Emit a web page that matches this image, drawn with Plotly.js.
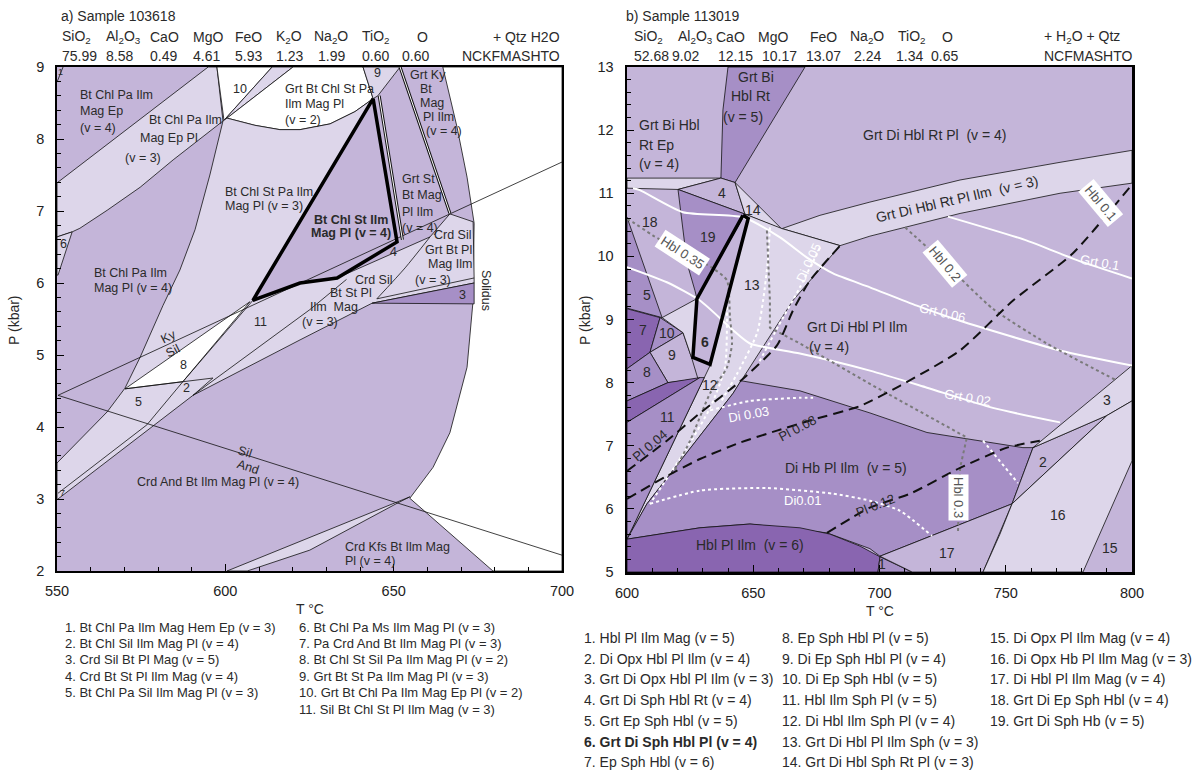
<!DOCTYPE html>
<html><head><meta charset="utf-8">
<script src="https://cdn.plot.ly/plotly-3.0.1.min.js"></script>
<style>html,body{margin:0;padding:0;background:#fff}#chart{width:1200px;height:776px}</style>
</head><body><div id="chart"></div>
<script>
const FONT = 'Liberation Sans, Arial, Helvetica, sans-serif';
const W = 1200, H = 776;
const C_LIGHT = '#ddd6ea', C_MED = '#c4b5d9', C_DARK = '#a68fc6', C_DARKEST = '#8965b0', C_WHITE = '#ffffff';

// ================= Panel a : Sample 103618 (T degC, P kbar) =================
const a_supersolidus = [[664.6,9],[700,9],[700,2],[679.5,2],[654.8,3.01],[661.7,3.44],[666.7,3.92],[671.8,4.83],[673.6,5.76],[673.9,6.83],[671.8,7.47],[668.8,8.17]];
const a_epPl = [[550,7.39],[594.9,9],[597.5,9],[599.3,8.25],[584.5,7.71],[574.7,7.33],[564.9,7.01],[556.8,6.76],[554.5,6.71],[550,6.64]];
const a_f10 = [[597.5,9],[613.9,9],[599.6,8.26]];
const a_sliver10 = [[613.9,9],[620.1,9],[600.5,8.29],[599.6,8.26]];
const a_grtBtChl = [[620.1,9],[640.9,9],[643.9,8.56],[638.5,8.38],[631.1,8.21],[622.2,8.13],[616.2,8.13],[608.8,8.19],[600.5,8.29]];
const a_f9 = [[640.9,9],[651.9,9],[645.3,8.6],[643.9,8.56]];
const a_bigLight = [[599.3,8.25],[600.5,8.29],[608.8,8.19],[616.2,8.13],[622.2,8.13],[631.1,8.21],[638.5,8.38],[643.9,8.56],[608.2,5.76],[622.2,6.0],[633.2,6.07],[660.8,6.64],[666.7,6.96],[673.6,6.85],[673.9,6.07],[673.9,6.0],[643.6,5.72],[622.2,5.21],[590.4,4.44],[550.3,2.99],[550,2.99],[550,3.5],[564.9,4.21],[570.2,4.54],[574.7,4.97],[581.5,5.69],[586.5,6.18],[591,6.74],[595.4,7.5]];
const a_f8 = [[570.2,4.53],[607.3,5.74],[587.4,4.63]];
const a_f6 = [[550,6.64],[554.5,6.71],[550.3,6.11],[550,6.11]];
const a_f3 = [[643.6,5.72],[673.9,6.0],[673.9,5.71]];
const a_kfsSliver = [[600.5,2],[625.1,2.47],[654.8,3.03],[651,2.94],[625.1,2.29],[606.5,2]];
const a_kySil = [[550.3,4.44],[700,7.68]];
const a_silAnd = [[550.3,4.44],[700,2.22]];
const a_thick = [[643.9,8.56],[608.2,5.76],[622.2,6.0],[633.2,6.07],[651,6.57],[643.9,8.56]];
const a_dbl1 = [[651.9,9],[666.7,6.97]];
const a_dbl2 = [[645.7,8.6],[652.6,6.6]];
const a_crdCurve = [[645,5.78],[653.4,6.21],[660.8,6.64]];
const a_f3top = [[645,5.78],[673.9,6.07]];
const a_lineL2 = [[608.2,5.76],[587.4,4.63],[576.7,4.03],[550.3,3.08]];
const a_lineF = [[590.4,4.44],[625.1,5.63],[636,6.05]];
const a_lineE = [[570.2,4.53],[596.3,4.68],[590.4,4.44]];
const a_line1 = [[550,8.79],[551.8,9]];

// ================= Panel b : Sample 113019 =================
const b_strip = [[600,11.24],[637.2,11.24],[620.2,11.06],[600,11.08]];
const b_grtBiHblRt = [[640,13],[670.5,13],[642.8,11.17],[637.2,11.24],[638,12.32]];
const b_f4 = [[620.2,11.06],[637.2,11.24],[642.8,11.17],[646.7,10.67]];
const b_f14 = [[642.8,11.17],[661.4,10.43],[646.7,10.67]];
const b_band = [[661.4,10.44],[676.4,10.65],[696.2,10.86],[731.9,11.21],[771.5,11.49],[800,11.68],[800,11.16],[771.5,11.0],[731.9,10.68],[696.2,10.32],[684.4,10.17]];
const b_wedge = [[646.7,10.67],[661.4,10.44],[684.4,10.17],[665.7,9.3],[642,7.83],[607.9,6.08],[600,5.52],[632.9,8.27],[647.9,10.6]];
const b_f19 = [[620.2,11.06],[646.7,10.67],[627.7,9.33],[626.9,9.46],[623.8,9.89]];
const b_f5 = [[600,10.62],[613.9,9.03],[600,9.18]];
const b_f7 = [[600,9.17],[613.1,9.03],[609.1,8.48],[600,8.22]];
const b_f10 = [[613.1,9.03],[622.2,8.79],[609.1,8.48]];
const b_f9 = [[609.1,8.48],[622.2,8.79],[625.7,8.38],[628.1,8.06],[616.2,8.0]];
const b_f8 = [[600,8.22],[609.1,8.48],[616.2,8.0],[600,7.71]];
const b_sliver = [[600,7.71],[616.2,8.0],[628.9,8.08],[600,7.37]];
const b_f11 = [[600,7.37],[628.9,8.08],[630.6,8.08],[600,5.52]];
const b_lightNear6 = [[613.9,9.03],[627.7,9.33],[626.1,8.4],[625.7,8.38],[622.2,8.79]];
const b_diHb = [[645.1,8.03],[668.5,7.87],[696.2,7.52],[718.8,7.21],[756.8,6.97],[760.8,6.97],[752.5,6.08],[700.2,5.25],[696.2,5.37],[679.2,5.62],[648.7,5.76],[628.9,5.7],[600,5.52],[607.9,6.08],[642,7.83]];
const b_hblPlIlm = [[600,5.52],[628.9,5.7],[648.7,5.76],[668.5,5.7],[680.4,5.6],[692.3,5.41],[700.2,5.24],[699.4,5],[600,5]];
const b_f1 = [[700.2,5.24],[712.9,5],[699.4,5]];
const b_f17 = [[700.2,5.25],[752.5,6.08],[741,5],[712.9,5]];
const b_f2 = [[760.8,6.97],[790.1,7.48],[752.5,6.08]];
const b_f3 = [[760.8,6.97],[800,8.27],[800,7.71],[790.1,7.48]];
const b_f16 = [[752.5,6.08],[790.1,7.48],[800,7.71],[800,6.76],[780.6,5],[741,5],[747.7,5.6]];
const b_thick = [[645.9,10.65],[648,10.6],[632.9,8.29],[626.1,8.4],[627.7,9.33],[645.9,10.65]];
// isopleths
const b_grt01 = [[727.1,10.63],[758.4,10.25],[778.2,9.94],[800,9.65]];
const b_grt006 = [[602.4,11.08],[605.1,11.05],[622.2,10.7],[645.9,10.62],[660.6,10.3],[671.3,9.98],[681.6,9.73],[696.2,9.51],[714.8,9.22],[731.9,8.98],[771.5,8.51],[800,8.27]];
const b_grt002 = [[600,9.83],[615.8,9.59],[628.9,9.3],[642,8.83],[648.7,8.62],[668.5,8.46],[696.2,8.19],[718.8,7.92],[744.9,7.6],[771.5,7.37]];
const b_hbl035 = [[600,10.59],[602.4,10.54],[610.3,10.33],[622,10.07],[634.1,9.81],[639.6,9.62],[640.8,9.03],[641.6,8.62],[639.6,8.24],[632.9,7.83],[625,7.08],[618.2,6.56]];
const b_hbl02 = [[710.1,10.46],[725.9,9.89],[744.9,9.17],[766.3,8.62],[794.1,8.03]];
const b_hbl03 = [[655.4,10.41],[655.8,9.94],[656.6,9.3],[656.6,8.87],[668.5,8.62],[696.2,7.98],[734.6,7.13],[731.9,6.65],[731.1,5.65]];
const b_di005 = [[676.4,10.14],[668.5,9.51],[660,8.9],[652,8.3]];
const b_diW1 = [[639.6,9.3],[638.8,8.24],[632.9,7.6],[623.8,6.97],[609.1,6.08]];
const b_diW2 = [[656.6,10.46],[655.8,9.94],[653.9,9.3],[651.5,8.78],[643.6,8.14],[636.8,7.67]];
const b_di003 = [[632.9,7.56],[648.7,7.71],[668.5,7.76],[673.7,7.76]];
const b_di001 = [[609.1,6.08],[628.9,6.29],[655.4,6.33],[681.6,6.24],[696.2,6.13],[708.1,5.97],[720.8,5.57]];
const b_diSeg = [[741,7.08],[754.8,6.41]];
const b_pl004 = [[600,6.6],[615.8,7.08],[629,7.52],[644.8,8.02],[659.4,8.59],[665.7,9.14],[672.5,9.62],[684.4,10.17]];
const b_pl008 = [[600,6.16],[615.8,6.52],[628.9,6.79],[644.8,7.05],[659.4,7.24],[672.5,7.4],[692.3,7.63],[708.1,7.95],[731.9,8.51],[752.9,9.3],[776.6,10.05],[799.2,11.1]];
const b_pl012 = [[679.2,5.62],[696.2,6.02],[712.1,6.24],[731.9,6.65],[750.5,6.97],[763.5,7.08]];

// ================= Text data =================
const oxidesA = ['SiO<sub>2</sub>','Al<sub>2</sub>O<sub>3</sub>','CaO','MgO','FeO','K<sub>2</sub>O','Na<sub>2</sub>O','TiO<sub>2</sub>','O'];
const valuesA = ['75.99','8.58','0.49','4.61','5.93','1.23','1.99','0.60','0.60'];
const oxidesB = ['SiO<sub>2</sub>','Al<sub>2</sub>O<sub>3</sub>','CaO','MgO','FeO','Na<sub>2</sub>O','TiO<sub>2</sub>','O'];
const valuesB = ['52.68','9.02','12.15','10.17','13.07','2.24','1.34','0.65'];
const legendA = ['1. Bt Chl Pa Ilm Mag Hem Ep (v = 3)','2. Bt Chl Sil Ilm Mag Pl (v = 4)','3. Crd Sil Bt Pl Mag (v = 5)','4. Crd Bt St Pl Ilm Mag (v = 4)','5. Bt Chl Pa Sil Ilm Mag Pl (v = 3)',
  '6. Bt Chl Pa Ms Ilm Mag Pl (v = 3)','7. Pa Crd And Bt Ilm Mag Pl (v = 3)','8. Bt Chl St Sil Pa Ilm Mag Pl (v = 2)','9. Grt Bt St Pa Ilm Mag Pl (v = 3)','10. Grt Bt Chl Pa Ilm Mag Ep Pl (v = 2)','11. Sil Bt Chl St Pl Ilm Mag (v = 3)'];
const legendB = ['1. Hbl Pl Ilm Mag (v = 5)','2. Di Opx Hbl Pl Ilm (v = 4)','3. Grt Di Opx Hbl Pl Ilm (v = 3)','4. Grt Di Sph Hbl Rt (v = 4)','5. Grt Ep Sph Hbl (v = 5)','<b>6. Grt Di Sph Hbl Pl (v = 4)</b>','7. Ep Sph Hbl (v = 6)',
  '8. Ep Sph Hbl Pl (v = 5)','9. Di Ep Sph Hbl Pl (v = 4)','10. Di Ep Sph Hbl (v = 5)','11. Hbl Ilm Sph Pl (v = 5)','12. Di Hbl Ilm Sph Pl (v = 4)','13. Grt Di Hbl Pl Ilm Sph (v = 3)','14. Grt Di Hbl Sph Rt Pl (v = 3)',
  '15. Di Opx Pl Ilm Mag (v = 4)','16. Di Opx Hb Pl Ilm Mag (v = 3)','17. Di Hbl Pl Ilm Mag (v = 4)','18. Grt Di Ep Sph Hbl (v = 4)','19. Grt Di Sph Hb (v = 5)'];

// ================= builders =================
const X = p => p.map(q => q[0]), Y = p => p.map(q => q[1]);
function field(pts, color, ax, lw) {
  const c = pts.concat([pts[0]]);
  return {type:'scatter', mode:'lines', x:X(c), y:Y(c), fill:'toself', fillcolor:color,
    line:{color:'#111', width: lw===undefined?0.8:lw}, xaxis: ax==='b'?'x2':'x', yaxis: ax==='b'?'y2':'y', hoverinfo:'skip'};
}
function path(pts, ax, color, width, dash, shape) {
  return {type:'scatter', mode:'lines', x:X(pts), y:Y(pts), line:{color, width, dash: dash||'solid', shape: shape||'linear', smoothing:0.6},
    xaxis: ax==='b'?'x2':'x', yaxis: ax==='b'?'y2':'y', hoverinfo:'skip'};
}

const traces = [
  field(a_supersolidus, C_WHITE, 'a'),
  field(a_epPl, C_LIGHT, 'a'),
  field(a_f10, C_WHITE, 'a'),
  field(a_sliver10, C_LIGHT, 'a'),
  field(a_grtBtChl, C_WHITE, 'a'),
  field(a_f9, C_LIGHT, 'a'),
  field(a_bigLight, C_LIGHT, 'a'),
  field(a_f8, C_WHITE, 'a'),
  field(a_f6, C_LIGHT, 'a'),
  field(a_f3, C_DARK, 'a'),
  field(a_kfsSliver, C_LIGHT, 'a'),
  path(a_kySil, 'a', '#111', 0.8),
  path(a_silAnd, 'a', '#111', 0.8),
  path(a_crdCurve, 'a', '#111', 0.8, 'solid', 'spline'),
  path(a_f3top, 'a', '#111', 0.8),
  path(a_lineL2, 'a', '#111', 0.8),
  path(a_lineF, 'a', '#111', 0.8),
  path(a_lineE, 'a', '#111', 0.8),
  path(a_line1, 'a', '#111', 0.8),
  path(a_dbl1, 'a', '#111', 3),
  path(a_dbl1, 'a', '#fff', 1),
  path(a_dbl2, 'a', '#111', 3),
  path(a_dbl2, 'a', '#fff', 1),
  path(a_thick, 'a', '#000', 3.5),
  field(b_strip, C_LIGHT, 'b'),
  field(b_grtBiHblRt, C_DARK, 'b'),
  field(b_f4, C_MED, 'b'),
  field(b_f14, C_LIGHT, 'b'),
  field(b_band, C_LIGHT, 'b'),
  field(b_wedge, C_LIGHT, 'b'),
  field(b_f19, C_DARK, 'b'),
  field(b_f5, C_DARK, 'b'),
  field(b_f7, C_DARKEST, 'b'),
  field(b_f10, C_DARK, 'b'),
  field(b_f9, C_MED, 'b'),
  field(b_f8, C_DARK, 'b'),
  field(b_sliver, C_DARKEST, 'b'),
  field(b_f11, C_DARK, 'b'),
  field(b_lightNear6, C_LIGHT, 'b'),
  field(b_diHb, C_DARK, 'b'),
  field(b_hblPlIlm, C_DARKEST, 'b'),
  field(b_f1, C_DARK, 'b'),
  field(b_f17, C_MED, 'b'),
  field(b_f2, C_MED, 'b'),
  field(b_f3, C_LIGHT, 'b'),
  field(b_f16, C_LIGHT, 'b'),
  path(b_grt01, 'b', '#fff', 2, 'solid', 'spline'),
  path(b_grt006, 'b', '#fff', 2, 'solid', 'spline'),
  path(b_grt002, 'b', '#fff', 2, 'solid', 'spline'),
  path(b_di005, 'b', '#fff', 2, 'dot', 'spline'),
  path(b_diW1, 'b', '#fff', 2, 'dot', 'spline'),
  path(b_diW2, 'b', '#fff', 2, 'dot', 'spline'),
  path(b_di003, 'b', '#fff', 2, 'dot', 'spline'),
  path(b_di001, 'b', '#fff', 2, 'dot', 'spline'),
  path(b_diSeg, 'b', '#fff', 2, 'dot'),
  path(b_hbl035, 'b', '#7a7a7a', 2, 'dot', 'spline'),
  path(b_hbl02, 'b', '#7a7a7a', 2, 'dot', 'spline'),
  path(b_hbl03, 'b', '#7a7a7a', 2, 'dot'),
  path(b_pl004, 'b', '#111', 2, '10px,6px', 'spline'),
  path(b_pl008, 'b', '#111', 2, '10px,6px', 'spline'),
  path(b_pl012, 'b', '#111', 2, '10px,6px', 'spline'),
  path(b_thick, 'b', '#000', 3.5)
];

// ================= annotations =================
function T(x, y, text, o) {
  o = o || {};
  const a = {x: x / W, y: 1 - y / H, xref:'paper', yref:'paper', text, showarrow:false,
    font:{family:FONT, size:o.size||12.5, color:o.color||'#2a2a2a'}, xanchor:o.xa||'center', yanchor:o.ya||'middle',
    textangle:o.rot||0, align:o.align||'left'};
  if (o.bg) { a.bgcolor = o.bg; a.borderpad = 2; }
  return a;
}
const ann = [];
ann.push(T(59, 16, 'a) Sample 103618', {size:14, xa:'left'}));
ann.push(T(624, 16, 'b) Sample 113019', {size:14, xa:'left'}));
const oxAx = [60,104,148,191,233,274,312,360,415], valAx = [60,104,148,191,233,274,316,360,400];
oxidesA.forEach((t,i)=>ann.push(T(oxAx[i], 37, t, {size:14, xa:'left'})));
valuesA.forEach((t,i)=>ann.push(T(valAx[i], 56, t, {size:14, xa:'left'})));
ann.push(T(562, 37, '+ Qtz H2O', {size:14, xa:'right'}));
ann.push(T(562, 56, 'NCKFMASHTO', {size:14, xa:'right'}));
const oxBx = [632,676,714,756,808,848,896,940], valBx = [632,670,716,760,804,852,894,929];
oxidesB.forEach((t,i)=>ann.push(T(oxBx[i], 37, t, {size:14, xa:'left'})));
valuesB.forEach((t,i)=>ann.push(T(valBx[i], 56, t, {size:14, xa:'left'})));
ann.push(T(1042, 37, '+ H<sub>2</sub>O + Qtz', {size:14, xa:'left'}));
ann.push(T(1042, 56, 'NCFMASHTO', {size:14, xa:'left'}));
ann.push(T(14, 320, 'P (kbar)', {size:14, rot:-90}));
ann.push(T(585, 320, 'P (kbar)', {size:14, rot:-90}));
ann.push(T(310, 609, 'T °C', {size:14}));
ann.push(T(880, 611, 'T °C', {size:14}));
legendA.forEach((t,i)=>{ const col = i<5?0:1, r = i<5?i:i-5; ann.push(T(col?297:63, 627+16.4*r, t, {size:13, xa:'left'})); });
legendB.forEach((t,i)=>{ const col = Math.floor(i/7), r = i%7; ann.push(T([582,780,988][col], 638+20.7*r, t, {size:14, xa:'left'})); });

const A = 12.5;
ann.push(T(78, 112, 'Bt Chl Pa Ilm<br>Mag Ep<br>(v = 4)', {size:A, xa:'left'}));
ann.push(T(147, 120, 'Bt Chl Pa Ilm', {size:A, xa:'left'}));
ann.push(T(138, 138, 'Mag Ep Pl', {size:A, xa:'left'}));
ann.push(T(123, 158, '(v = 3)', {size:A, xa:'left'}));
ann.push(T(240, 89, '10', {size:A}));
ann.push(T(283, 89, 'Grt Bt Chl St Pa', {size:A, xa:'left'}));
ann.push(T(283, 104, 'Ilm Mag Pl', {size:A, xa:'left'}));
ann.push(T(283, 120, '(v = 2)', {size:A, xa:'left'}));
ann.push(T(377, 73, '9', {size:A}));
ann.push(T(408, 75, 'Grt Ky', {size:A, xa:'left'}));
ann.push(T(418, 89, 'Bt', {size:A, xa:'left'}));
ann.push(T(418, 103, 'Mag', {size:A, xa:'left'}));
ann.push(T(421, 117, 'Pl Ilm', {size:A, xa:'left'}));
ann.push(T(424, 131, '(v = 4)', {size:A, xa:'left'}));
ann.push(T(400, 170, 'Grt St<br>Bt Mag<br>Pl Ilm<br>(v = 4)', {size:A, xa:'left', ya:'top'}));
ann.push(T(223, 192, 'Bt Chl St Pa Ilm', {size:A, xa:'left'}));
ann.push(T(223, 206, 'Mag Pl (v = 3)', {size:A, xa:'left'}));
ann.push(T(351, 220, '<b>Bt Chl St Ilm</b>', {size:A}));
ann.push(T(351, 233, '<b>Mag Pl (v = 4)</b>', {size:A}));
ann.push(T(393, 252, '4', {size:A}));
ann.push(T(474, 235, 'Crd Sil', {size:A, xa:'right'}));
ann.push(T(474, 250, 'Grt Bt Pl', {size:A, xa:'right'}));
ann.push(T(474, 264, 'Mag Ilm', {size:A, xa:'right'}));
ann.push(T(413, 280, '(v = 3)', {size:A, xa:'left'}));
ann.push(T(462, 295, '3', {size:A}));
ann.push(T(486, 290, 'Solidus', {size:A, rot:90}));
ann.push(T(353, 280, 'Crd Sil', {size:A, xa:'left'}));
ann.push(T(328, 293, 'Bt St Pl', {size:A, xa:'left'}));
ann.push(T(308, 307, 'Ilm  Mag', {size:A, xa:'left'}));
ann.push(T(300, 322, '(v = 3)', {size:A, xa:'left'}));
ann.push(T(260, 322, '11', {size:A}));
ann.push(T(92, 273, 'Bt Chl Pa Ilm', {size:A, xa:'left'}));
ann.push(T(92, 288, 'Mag Pl (v = 4)', {size:A, xa:'left'}));
ann.push(T(63, 244, '6', {size:A}));
ann.push(T(168, 337, 'Ky', {size:A, rot:-27}));
ann.push(T(173, 351, 'Sil', {size:A, rot:-27}));
ann.push(T(183, 365, '8', {size:A}));
ann.push(T(186, 388, '2', {size:A}));
ann.push(T(138, 402, '5', {size:A}));
ann.push(T(245, 452, 'Sil', {size:A, rot:18}));
ann.push(T(248, 467, 'And', {size:A, rot:18}));
ann.push(T(218, 482, 'Crd And Bt Ilm Mag Pl (v = 4)', {size:A}));
ann.push(T(343, 547, 'Crd Kfs Bt Ilm Mag', {size:A, xa:'left'}));
ann.push(T(343, 561, 'Pl (v = 4)', {size:A, xa:'left'}));
ann.push(T(60, 72, '1', {size:9}));
ann.push(T(62, 493, '7', {size:9}));

const B = 14;
ann.push(T(637, 125, 'Grt Bi Hbl', {size:B, xa:'left'}));
ann.push(T(637, 145, 'Rt Ep', {size:B, xa:'left'}));
ann.push(T(637, 164, '(v = 4)', {size:B, xa:'left'}));
ann.push(T(756, 77, 'Grt Bi', {size:B}));
ann.push(T(750, 96, 'Hbl Rt', {size:B}));
ann.push(T(743, 117, '(v = 5)', {size:B}));
ann.push(T(935, 135, 'Grt Di Hbl Rt Pl  (v = 4)', {size:B}));
ann.push(T(957, 199, 'Grt Di Hbl Rt Pl Ilm  (v = 3)', {size:B, rot:-13}));
ann.push(T(722, 193, '4', {size:B}));
ann.push(T(753, 210, '14', {size:B}));
ann.push(T(650, 222, '18', {size:B}));
ann.push(T(708, 237, '19', {size:B}));
ann.push(T(752, 285, '13', {size:B}));
ann.push(T(647, 295, '5', {size:B}));
ann.push(T(682, 253, 'Hbl 0.35', {size:13, rot:33, bg:'#fff', color:'#555'}));
ann.push(T(808, 263, 'Di 0.05', {size:13, rot:-65, color:'#fff'}));
ann.push(T(1100, 203, 'Hbl 0.1', {size:13, rot:50, bg:'#fff', color:'#555'}));
ann.push(T(1100, 262, 'Grt 0.1', {size:13, rot:10, color:'#fff'}));
ann.push(T(945, 263, 'Hbl 0.2', {size:13, rot:50, bg:'#fff', color:'#555'}));
ann.push(T(942, 312, 'Grt 0.06', {size:13, rot:13, color:'#fff'}));
ann.push(T(857, 327, 'Grt Di Hbl Pl Ilm', {size:B}));
ann.push(T(807, 347, '(v = 4)', {size:B, xa:'left'}));
ann.push(T(643, 330, '7', {size:B}));
ann.push(T(667, 333, '10', {size:B}));
ann.push(T(705, 342, '<b>6</b>', {size:B}));
ann.push(T(672, 355, '9', {size:B}));
ann.push(T(647, 372, '8', {size:B}));
ann.push(T(710, 385, '12', {size:B}));
ann.push(T(667, 417, '11', {size:B}));
ann.push(T(748, 414, 'Di 0.03', {size:13, rot:-10, color:'#fff'}));
ann.push(T(650, 446, 'Pl 0.04', {size:13, rot:-40}));
ann.push(T(797, 428, 'Pl 0.08', {size:13, rot:-28}));
ann.push(T(967, 398, 'Grt 0.02', {size:13, rot:10, color:'#fff'}));
ann.push(T(1107, 400, '3', {size:B}));
ann.push(T(1043, 462, '2', {size:B}));
ann.push(T(846, 468, 'Di Hb Pl Ilm  (v = 5)', {size:B}));
ann.push(T(958, 497, 'Hbl 0.3', {size:13, rot:90, bg:'#fff', color:'#555'}));
ann.push(T(803, 500, 'Di0.01', {size:13, color:'#fff'}));
ann.push(T(875, 505, 'Pl 0.12', {size:13, rot:-22}));
ann.push(T(1058, 515, '16', {size:B}));
ann.push(T(947, 553, '17', {size:B}));
ann.push(T(1110, 548, '15', {size:B}));
ann.push(T(882, 564, '1', {size:B}));
ann.push(T(750, 545, 'Hbl Pl Ilm  (v = 6)', {size:B}));

function axis(extra) {
  return Object.assign({showline:true, mirror:true, linecolor:'#000', linewidth:1.8, ticks:'inside', ticklen:7, tickwidth:1, tickcolor:'#000',
    showgrid:false, zeroline:false, tickfont:{family:FONT, size:14.5, color:'#222'}, ticklabelstandoff:6, fixedrange:true}, extra);
}
const layout = {
  width:W, height:H, margin:{l:0,r:0,t:0,b:0}, paper_bgcolor:'#fff', plot_bgcolor:C_MED, showlegend:false,
  font:{family:FONT, color:'#222'},
  xaxis: axis({domain:[57/W, 562/W], range:[550,700], tickvals:[550,600,650,700], minor:{ticks:'inside', ticklen:4, dtick:10, tickcolor:'#000'}, anchor:'y'}),
  yaxis: axis({domain:[1-571/H, 1-67/H], range:[2,9], dtick:1, ticklabelstandoff:8, minor:{ticks:'inside', ticklen:4, dtick:0.2, tickcolor:'#000'}, anchor:'x'}),
  xaxis2: axis({domain:[627/W, 1132/W], range:[600,800], tickvals:[600,650,700,750,800], linewidth:2.5, minor:{ticks:'inside', ticklen:4, dtick:10, tickcolor:'#000'}, anchor:'y2'}),
  yaxis2: axis({domain:[1-572/H, 1-67/H], range:[5,13], dtick:1, ticklabelstandoff:8, linewidth:2.5, minor:{ticks:'inside', ticklen:4, dtick:0.2, tickcolor:'#000'}, anchor:'x2'}),
  annotations: ann
};
Plotly.newPlot('chart', traces, layout, {staticPlot:true, displayModeBar:false});
</script></body></html>
